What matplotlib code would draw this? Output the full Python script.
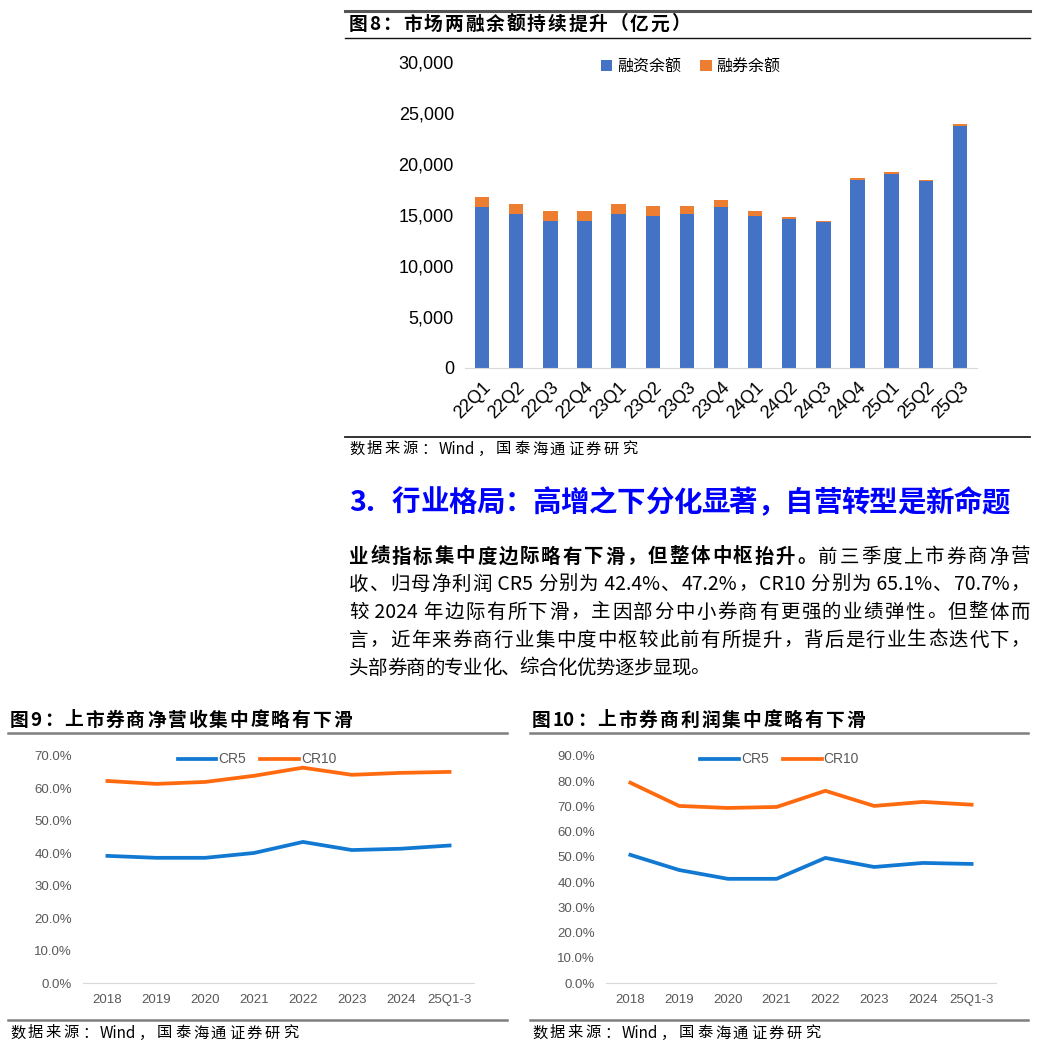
import matplotlib
matplotlib.use("Agg")
import matplotlib.pyplot as plt
from matplotlib.lines import Line2D
from matplotlib.font_manager import FontProperties

W, H = 1037, 1047
CJK = ['Noto Sans CJK SC', 'DejaVu Sans']
plt.rcParams['font.family'] = ['Liberation Sans', 'Noto Sans CJK SC']

# ---- data: fig 8 (两融余额, 亿元)
quarters = ["22Q1", "22Q2", "22Q3", "22Q4", "23Q1", "23Q2", "23Q3", "23Q4",
            "24Q1", "24Q2", "24Q3", "24Q4", "25Q1", "25Q2", "25Q3"]
financing = [15800, 15100, 14400, 14400, 15100, 14900, 15100, 15800,
             14900, 14600, 14300, 18450, 19050, 18350, 23750]
lending = [1000, 980, 1000, 1000, 950, 950, 800, 700,
           450, 250, 120, 130, 130, 120, 150]

# ---- data: fig 9 / fig 10 (集中度, %)
years = ["2018", "2019", "2020", "2021", "2022", "2023", "2024", "25Q1-3"]
rev_cr5 = [39.2, 38.6, 38.6, 40.1, 43.5, 41.0, 41.4, 42.4]
rev_cr10 = [62.3, 61.4, 62.0, 63.9, 66.4, 64.2, 64.8, 65.1]
prof_cr5 = [50.8, 44.8, 41.3, 41.3, 49.6, 46.0, 47.6, 47.2]
prof_cr10 = [79.4, 70.2, 69.4, 69.8, 76.2, 70.2, 71.8, 70.7]

source = "数据来源：Wind，国泰海通证券研究"

fig = plt.figure(figsize=(W / 100, H / 100), dpi=100)
fig.canvas.draw()
rend = fig.canvas.get_renderer()


def px_axes(left, top, right, bottom):
    return fig.add_axes([left / W, 1 - bottom / H, (right - left) / W, (bottom - top) / H])


# overlay in pixel coords for text and rules
page = fig.add_axes([0, 0, 1, 1])
page.set_xlim(0, W)
page.set_ylim(H, 0)
page.axis("off")


def rule(x0, x1, y, color="#333333", lw=1.2):
    page.add_line(Line2D([x0, x1], [y, y], color=color, lw=lw))


def tokens(s):
    out, run = [], ""
    for ch in s:
        if ord(ch) < 128:
            run += ch
        else:
            if run:
                out.append(run)
                run = ""
            out.append(ch)
    if run:
        out.append(run)
    return out


def spaced(x0, y, parts, size, x1=None, color="black"):
    # parts: list of (string, weight); spread tokens so the line ends at x1
    toks = []
    for s, wgt in parts:
        for t in tokens(s):
            fp = FontProperties(family=CJK, size=size, weight=wgt)
            w = rend.get_text_width_height_descent(t, fp, ismath=False)[0]
            toks.append((t, wgt, w))
    total = sum(w for _, _, w in toks)
    gap = 0 if x1 is None or len(toks) < 2 else (x1 - x0 - total) / (len(toks) - 1)
    x = x0
    for t, wgt, w in toks:
        page.text(x, y, t, fontsize=size, fontweight=wgt, family=CJK, color=color,
                  va="center", ha="left")
        x += w + gap


# ---------------- fig 8 ----------------
rule(345, 1030, 11, "#555555", 2.2)
spaced(349, 24, [("图8：市场两融余额持续提升（亿元）", "bold")], 13.5, 690)
rule(345, 1030, 38, "#111111", 1.0)

ax = px_axes(465, 62, 977, 368)
x = range(len(quarters))
ax.bar(x, financing, width=0.42, color="#4472C4", label="融资余额")
ax.bar(x, lending, width=0.42, bottom=financing, color="#ED7D31", label="融券余额")
ax.set_xlim(-0.5, len(quarters) - 0.5)
ax.set_ylim(0, 30000)
ax.set_yticks(range(0, 30001, 5000))
ax.set_yticklabels([f"{v:,}" for v in range(0, 30001, 5000)], fontsize=13)
ax.set_xticks(list(x))
ax.set_xticklabels(quarters, fontsize=13, rotation=45, ha="right", rotation_mode="anchor")
ax.tick_params(length=0, pad=8)
for s in ["top", "right", "left"]:
    ax.spines[s].set_visible(False)
ax.spines["bottom"].set_color("#D9D9D9")
ax.patch.set_visible(False)
ax.legend(loc="center", bbox_to_anchor=(0.441, 0.984), ncol=2, frameon=False,
          prop={"family": CJK, "size": 11.5}, handlelength=0.7, handleheight=0.7,
          handletextpad=0.3, columnspacing=1.2)

rule(345, 1030, 437, "#222222", 1.3)
spaced(349, 449, [(source, "normal")], 11, 637)

# ---------------- section heading + paragraph ----------------
page.text(349, 503, "3.", fontsize=20.5, fontweight="bold", family=CJK, color="#0000FF",
          va="center", ha="left")
spaced(392, 503, [("行业格局：高增之下分化显著，自营转型是新命题", "bold")], 20.5, 1010,
       color="#0000FF")

PS = 14
spaced(349, 557, [("业绩指标集中度边际略有下滑，但整体中枢抬升。", "bold"),
                  ("前三季度上市券商净营", "normal")], PS, 1030)
para = [
    "收、归母净利润 CR5 分别为 42.4%、47.2%，CR10 分别为 65.1%、70.7%，",
    "较 2024 年边际有所下滑，主因部分中小券商有更强的业绩弹性。但整体而",
    "言，近年来券商行业集中度中枢较此前有所提升，背后是行业生态迭代下，",
]
for i, line in enumerate(para):
    spaced(349, 584 + i * 28, [(line, "normal")], PS, 1030)
spaced(349, 668, [("头部券商的专业化、综合化优势逐步显现。", "normal")], PS, 710)


# ---------------- fig 9 / fig 10 ----------------
def line_chart(box, rule_x, title, title_end, src_end, cr5, cr10, ymax):
    rule(rule_x[0], rule_x[1], 733, "#7F7F7F", 1.8)
    spaced(rule_x[0] + 2, 720, [(title, "bold")], 13.5, title_end)
    a = px_axes(*box)
    xs = range(len(years))
    a.plot(xs, cr5, color="#1279D2", lw=2.7, label="CR5")
    a.plot(xs, cr10, color="#FF6A0F", lw=2.7, label="CR10")
    a.set_xlim(-0.5, len(years) - 0.5)
    a.set_ylim(0, ymax)
    ticks = list(range(0, ymax + 1, 10))
    a.set_yticks(ticks)
    a.set_yticklabels([f"{t:.1f}%" for t in ticks], fontsize=9.5, color="#595959")
    a.set_xticks(list(xs))
    a.set_xticklabels(years, fontsize=9.5, color="#595959")
    a.tick_params(length=0, pad=8)
    for s in ["top", "right", "left"]:
        a.spines[s].set_visible(False)
    a.spines["bottom"].set_color("#D9D9D9")
    a.patch.set_visible(False)
    a.legend(loc="center", bbox_to_anchor=(0.445, 0.985), ncol=2, frameon=False,
             fontsize=10, labelcolor="#595959", handlelength=2.8, handletextpad=0.15,
             columnspacing=1.0)
    rule(rule_x[0], rule_x[1], 1020, "#7F7F7F", 1.8)
    spaced(rule_x[0] + 2, 1033, [(source, "normal")], 11, src_end)


line_chart((83, 756, 474, 983), (8, 507), "图9：上市券商净营收集中度略有下滑", 352, 298,
           rev_cr5, rev_cr10, 70)
line_chart((606, 756, 996, 983), (530, 1028), "图10：上市券商利润集中度略有下滑", 865, 820,
           prof_cr5, prof_cr10, 90)

fig.savefig("out.png", dpi=100)
